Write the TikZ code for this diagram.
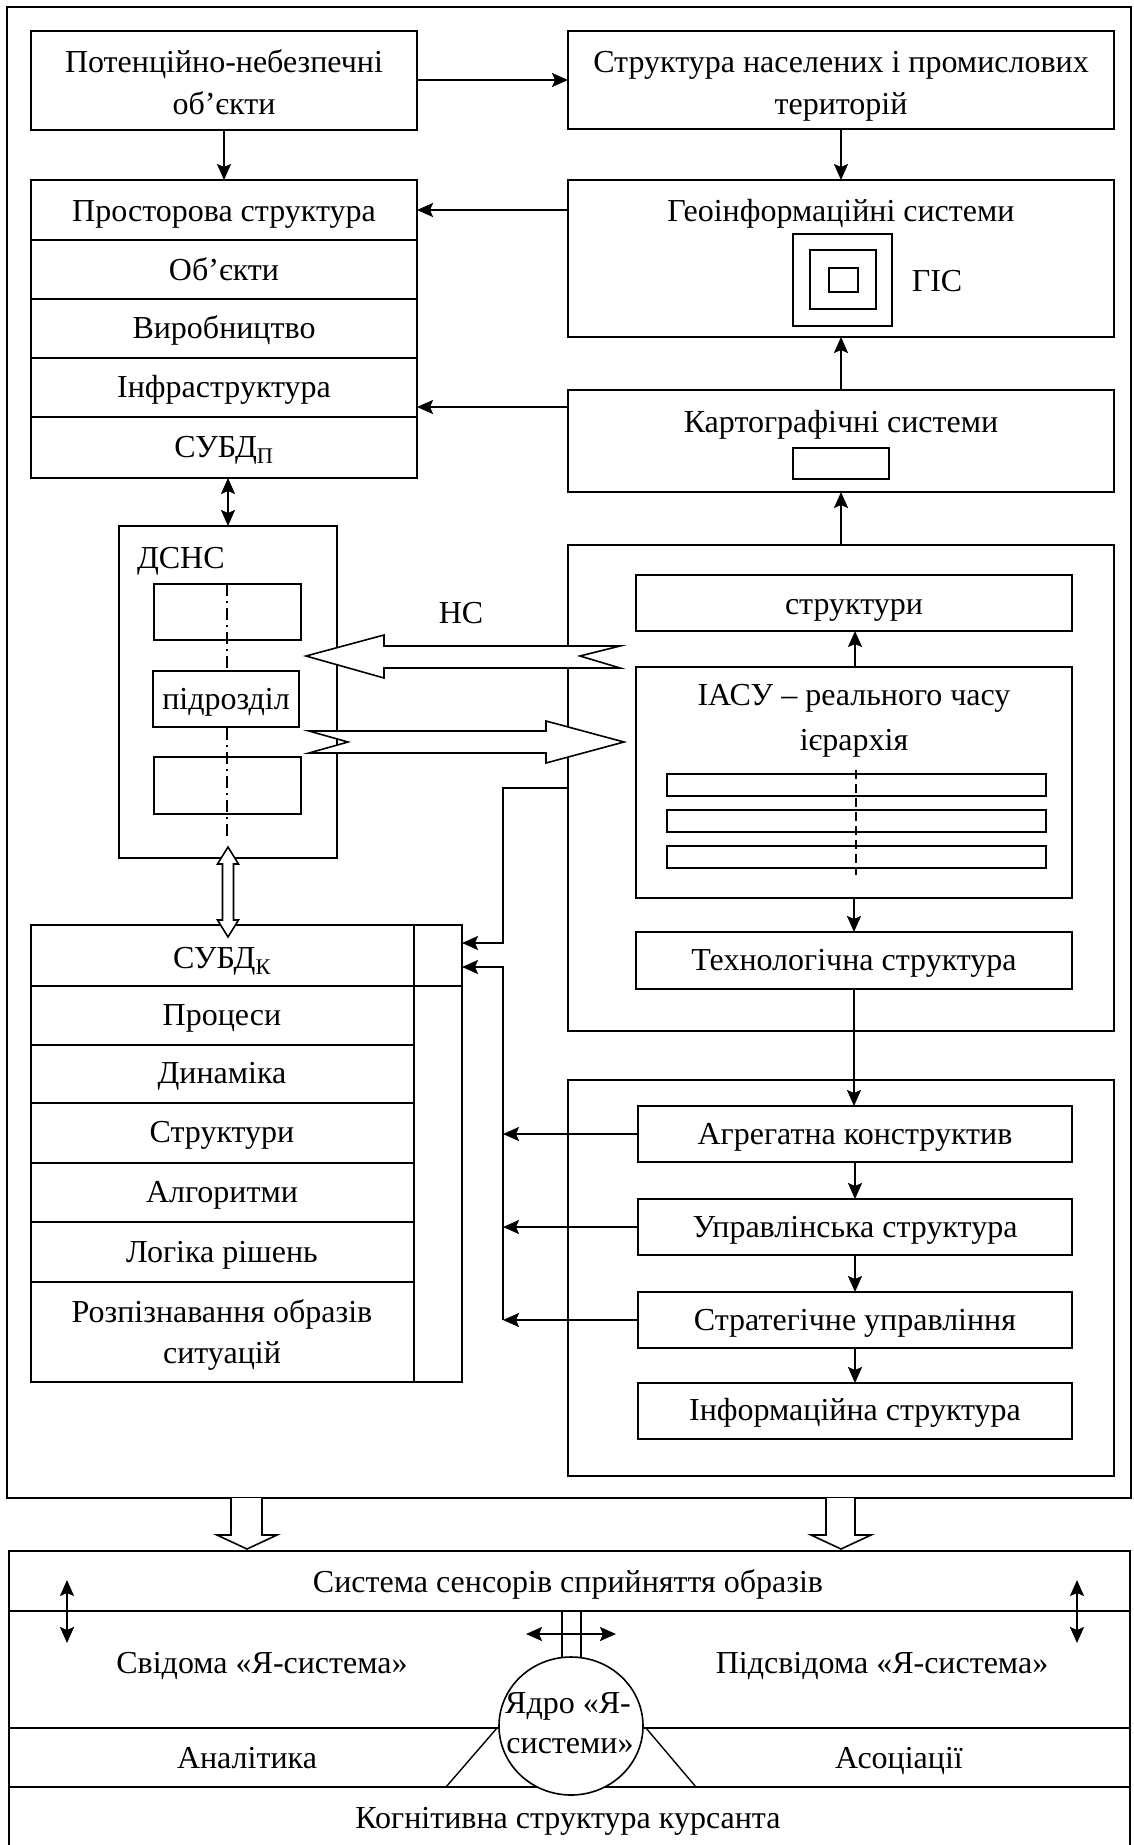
\documentclass[tikz,border=0pt]{standalone}
\usepackage{fontspec}
\setmainfont{Liberation Serif}
\usetikzlibrary{arrows.meta,calc,shapes.geometric}
\newcommand{\txt}{\fontsize{32}{42}\selectfont}
\begin{document}
\begin{tikzpicture}[x=1pt,y=-1pt,
  box/.style={draw, line width=2pt, inner sep=0pt, outer sep=0pt},
  lbl/.style={inner sep=0pt, outer sep=0pt, anchor=base, font=\txt},
  tip/.tip={Stealth[length=16pt,width=14pt,inset=3pt]},
  arr/.style={line width=2pt, -tip},
  darr/.style={line width=2pt, tip-tip},
  hollow/.style={draw, fill=white, line width=1.6pt, line join=miter},
  thinl/.style={line width=2pt}]
\useasboundingbox (0,0) rectangle (1134,1845);

% outer frame
\node[box, minimum width=1124pt, minimum height=1491pt] (frame) at (569,752.5) {};

% top boxes
\node[box, minimum width=386pt, minimum height=99pt] (pno) at (224,80.5) {};
\node[lbl] (pnot1) at (224,72) {Потенційно-небезпечні};
\node[lbl] (pnot2) at (224,114) {об’єкти};
\node[box, minimum width=546pt, minimum height=98pt] (str) at (841,80) {};
\node[lbl] (strt1) at (841,72) {Структура населених і промислових};
\node[lbl] (strt2) at (841,114) {територій};

% left stack
\node[box, minimum width=386pt, minimum height=60pt] (pr1) at (224,210) {};
\node[box, minimum width=386pt, minimum height=59pt] (pr2) at (224,269.5) {};
\node[box, minimum width=386pt, minimum height=59pt] (pr3) at (224,328.5) {};
\node[box, minimum width=386pt, minimum height=59pt] (pr4) at (224,387.5) {};
\node[box, minimum width=386pt, minimum height=61pt] (pr5) at (224,447.5) {};
\node[lbl] (pr1t) at (224,221) {Просторова структура};
\node[lbl] (pr2t) at (224,280) {Об’єкти};
\node[lbl] (pr3t) at (224,338) {Виробництво};
\node[lbl] (pr4t) at (224,397) {Інфраструктура};
\node[lbl] (pr5t) at (224,457) {СУБД\textsubscript{П}};

% GIS
\node[box, minimum width=546pt, minimum height=157pt] (geo) at (841,258.5) {};
\node[lbl] (geot) at (841,221) {Геоінформаційні системи};
\node[box, minimum width=99pt, minimum height=92pt] (g1) at (842.5,280) {};
\node[box, minimum width=66pt, minimum height=59pt] (g2) at (843,279.5) {};
\node[box, minimum width=29pt, minimum height=24pt] (g3) at (843.5,280) {};
\node[lbl] (gis) at (937,291) {ГІС};

% cartographic
\node[box, minimum width=546pt, minimum height=102pt] (kart) at (841,441) {};
\node[lbl] (kartt) at (841,432) {Картографічні системи};
\node[box, minimum width=96pt, minimum height=31pt] (kr) at (841,463.5) {};

% DSNS
\node[box, minimum width=218pt, minimum height=332pt] (dsns) at (228,692) {};
\node[lbl, anchor=base west] (dsnst) at (137,568) {ДСНС};
\node[box, minimum width=147pt, minimum height=56pt] (r1) at (227.5,612) {};
\node[box, minimum width=147pt, minimum height=57pt] (r3) at (227.5,785.5) {};
\coordinate (dd1) at (227,584);
\coordinate (dd2) at (227,841);
\draw[line width=1.2pt, dash pattern=on 12pt off 5pt on 2pt off 5pt] (dd1) -- (dd2);
\node[box, fill=white, minimum width=146pt, minimum height=56pt] (r2) at (226,699) {};
\node[lbl] (r2t) at (226,709) {підрозділ};

% IASU block
\node[box, minimum width=546pt, minimum height=486pt] (iblock) at (841,788) {};
\node[box, minimum width=436pt, minimum height=56pt] (struk) at (854,603) {};
\node[lbl] (strukt) at (854,614) {структури};
\node[box, minimum width=436pt, minimum height=231pt] (iasu) at (854,782.5) {};
\node[lbl] (iasut1) at (854,705) {ІАСУ – реального часу};
\node[lbl] (iasut2) at (854,750) {ієрархія};
\node[box, minimum width=379pt, minimum height=22pt] (b1) at (856.5,785) {};
\node[box, minimum width=379pt, minimum height=22pt] (b2) at (856.5,821) {};
\node[box, minimum width=379pt, minimum height=22pt] (b3) at (856.5,857) {};
\coordinate (id1) at (856,770);
\coordinate (id2) at (856,875);
\draw[line width=1.2pt, dash pattern=on 9pt off 5pt] (id1) -- (id2);
\node[box, minimum width=436pt, minimum height=57pt] (tech) at (854,960.5) {};
\node[lbl] (techt) at (854,970) {Технологічна структура};

% SUBD_K column
\node[box, minimum width=431pt, minimum height=457pt] (kout) at (246.5,1153.5) {};
\node[box, minimum width=383pt, minimum height=61pt] (k1) at (222.5,955.5) {};
\node[box, minimum width=383pt, minimum height=59pt] (k2) at (222.5,1015.5) {};
\node[box, minimum width=383pt, minimum height=58pt] (k3) at (222.5,1074) {};
\node[box, minimum width=383pt, minimum height=60pt] (k4) at (222.5,1133) {};
\node[box, minimum width=383pt, minimum height=59pt] (k5) at (222.5,1192.5) {};
\node[box, minimum width=383pt, minimum height=60pt] (k6) at (222.5,1252) {};
\node[box, minimum width=383pt, minimum height=100pt] (k7) at (222.5,1332) {};
\draw[thinl] (k1.south east) -- (k1.south east -| kout.east);
\node[lbl] (k1t) at (222,968) {СУБД\textsubscript{К}};
\node[lbl] (k2t) at (222,1025) {Процеси};
\node[lbl] (k3t) at (222,1083) {Динаміка};
\node[lbl] (k4t) at (222,1142) {Структури};
\node[lbl] (k5t) at (222,1202) {Алгоритми};
\node[lbl] (k6t) at (222,1262) {Логіка рішень};
\node[lbl] (k7t1) at (222,1322) {Розпізнавання образів};
\node[lbl] (k7t2) at (222,1363) {ситуацій};

% lower right block
\node[box, minimum width=546pt, minimum height=396pt] (lblock) at (841,1278) {};
\node[box, minimum width=434pt, minimum height=56pt] (agr) at (855,1134) {};
\node[box, minimum width=434pt, minimum height=56pt] (upr) at (855,1227) {};
\node[box, minimum width=434pt, minimum height=56pt] (strat) at (855,1320) {};
\node[box, minimum width=434pt, minimum height=56pt] (info) at (855,1411) {};
\node[lbl] (agrt) at (855,1144) {Агрегатна конструктив};
\node[lbl] (uprt) at (855,1237) {Управлінська структура};
\node[lbl] (stratt) at (855,1330) {Стратегічне управління};
\node[lbl] (infot) at (855,1420) {Інформаційна структура};

% connectors top
\draw[arr] (str.west -| pno.east) -- (str.west);
\draw[arr] (pno.south) -- (pr1.north);
\draw[arr] (str.south) -- (geo.north);
\draw[arr] (pr1.east -| geo.west) -- (pr1.east);
\coordinate (kin) at (417,407);
\draw[arr] (kin -| kart.west) -- (kin);
\draw[arr] (kart.north) -- (geo.south);
\draw[arr] (iblock.north) -- (kart.south);
\draw[darr] (dsns.north) -- (dsns.north |- pr5.south);
\draw[arr] ($(iasu.north)+(1,0)$) -- ($(struk.south)+(1,0)$);
\draw[arr] (iasu.south) -- (tech.north);
\draw[arr] (tech.south) -- (tech.south |- agr.north);
\draw[arr] (agr.south) -- (upr.north);
\draw[arr] (upr.south) -- (strat.north);
\draw[arr] (strat.south) -- (info.north);

% buses to SUBD_K
\coordinate (busA) at (503,943);
\coordinate (busB) at (503,967);
\coordinate (busC) at (503,1320);
\draw[arr] (iblock.west) -- (iblock.west -| busA) -- (busA) -- (busA -| kout.east);
\draw[arr] (busC) -- (busB) -- (busB -| kout.east);
\draw[arr] (agr.west) -- (agr.west -| busB);
\draw[arr] (upr.west) -- (upr.west -| busB);
\draw[arr] (strat.west) -- (strat.west -| busB);

% NS hollow arrows
\node[lbl] (ns) at (461,623) {НС};
\draw[hollow] (306,656) -- (384,635) -- (384,646) -- (620,646) -- (580,656) -- (620,668) -- (384,668) -- (384,678) -- cycle;
\draw[hollow] (309,731) -- (348,742) -- (309,753) -- (546,753) -- (546,763) -- (624,742) -- (546,721) -- (546,731) -- cycle;

% hollow double arrow DSNS - SUBD_K
\draw[hollow] (228,847) -- (238.5,864) -- (233.5,864) -- (233.5,920) -- (238.5,920) -- (228,937) -- (217.5,920) -- (222.5,920) -- (222.5,864) -- (217.5,864) -- cycle;

% hollow down arrows
\draw[hollow] (231,1498) -- (231,1535) -- (217,1535) -- (247,1549) -- (277,1535) -- (262,1535) -- (262,1498);
\draw[hollow] (826,1498) -- (826,1535) -- (811,1535) -- (841,1549) -- (871,1535) -- (855,1535) -- (855,1498);

% bottom block
\coordinate (bbl) at (9,1845);
\coordinate (btl) at (9,1551);
\coordinate (btr) at (1130,1551);
\coordinate (bbr) at (1130,1845);
\draw[thinl] (bbl) -- (btl) -- (btr) -- (bbr);
\draw[thinl] (9,1611) -- (1130,1611);
\draw[thinl] (9,1728) -- (1130,1728);
\draw[thinl] (9,1787) -- (1130,1787);
\draw[line width=1.4pt] (497,1728) -- (446,1787);
\draw[line width=1.4pt] (646,1728) -- (696,1787);
\node[box, line width=1.4pt, minimum width=19pt, minimum height=47pt] (stem) at (571.5,1634.5) {};
\node[box, ellipse, fill=white, line width=1.6pt, minimum width=144pt, minimum height=138pt] (core) at (571,1726) {};
\node[lbl] (coret1) at (568,1713) {Ядро «Я-};
\node[lbl] (coret2) at (570,1753) {системи»};
\coordinate (ha1) at (526,1634);
\coordinate (ha2) at (616,1634);
\draw[darr] (ha1) -- (ha2);
\coordinate (va1) at (67,1580);
\coordinate (va2) at (67,1643);
\draw[darr] (va1) -- (va2);
\coordinate (vb1) at (1077,1580);
\coordinate (vb2) at (1077,1643);
\draw[darr] (vb1) -- (vb2);

\node[lbl] (sens) at (568,1592) {Система сенсорів сприйняття образів};
\node[lbl] (svid) at (262,1673) {Свідома «Я-система»};
\node[lbl] (pidsv) at (882,1673) {Підсвідома «Я-система»};
\node[lbl] (anal) at (247,1768) {Аналітика};
\node[lbl] (asoc) at (899,1768) {Асоціації};
\node[lbl] (kogn) at (568,1828) {Когнітивна структура курсанта};
\end{tikzpicture}
\end{document}
